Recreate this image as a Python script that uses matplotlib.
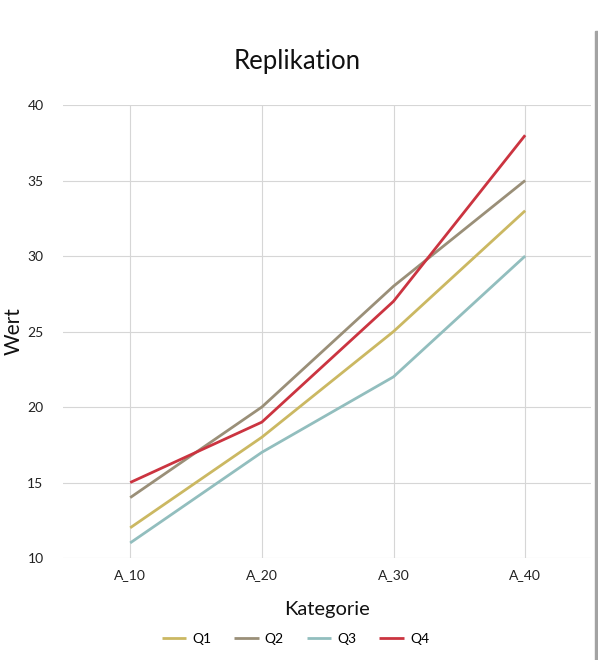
import matplotlib
matplotlib.use("Agg")
import matplotlib.pyplot as plt
from matplotlib.patches import Rectangle

plt.rcParams['font.family'] = ['Lato', 'DejaVu Sans']

# data
categories = ["A_10", "A_20", "A_30", "A_40"]
series_names = ["Q1", "Q2", "Q3", "Q4"]
q1 = [12, 18, 25, 33]
q2 = [14, 20, 28, 35]
q3 = [11, 17, 22, 30]
q4 = [15, 19, 27, 38]
colors = ["#cbb862", "#9a8f78", "#92bebe", "#cb3440"]

fig = plt.figure(figsize=(5.98, 6.6), dpi=100)
ax = fig.add_axes([0.1054, 0.1545, 0.8829, 0.6864])

x = list(range(len(categories)))
for name, vals, c in zip(series_names, [q1, q2, q3, q4], colors):
    ax.plot(x, vals, color=c, lw=2.0, label=name, solid_capstyle="butt")

ax.set_xlim(-0.51, 3.5)
ax.set_ylim(10, 40)
ax.set_xticks(x)
ax.set_xticklabels(categories)
ax.set_yticks(range(10, 41, 5))
ax.grid(True, color="#d6d6d6", lw=0.8)
ax.set_axisbelow(True)
for s in ax.spines.values():
    s.set_visible(False)
ax.tick_params(length=0, labelsize=10, colors="#222222", pad=8)
ax.tick_params(axis="y", pad=14)

# title centred on the figure
fig.text(0.497, 1 - 61 / 660, "Replikation", fontsize=18.5, color="#111111",
         ha="center", va="center")
ax.set_ylabel("Wert", fontsize=15, color="#111111", va="center")
ax.yaxis.set_label_coords(-0.093, 0.5)
ax.set_xlabel("Kategorie", fontsize=14.5, labelpad=14, color="#111111")

ax.legend(loc="center", bbox_to_anchor=(0.44, -0.178), ncol=4,
          frameon=False, fontsize=10, handlelength=1.75, columnspacing=1.65,
          handletextpad=0.45)

# gray edge bar on the right
fig.patches.append(Rectangle((595 / 598, 0), 3 / 598, 629 / 660,
                             transform=fig.transFigure, color="#a3a3a3",
                             figure=fig))

fig.savefig("out.png", dpi=100)
